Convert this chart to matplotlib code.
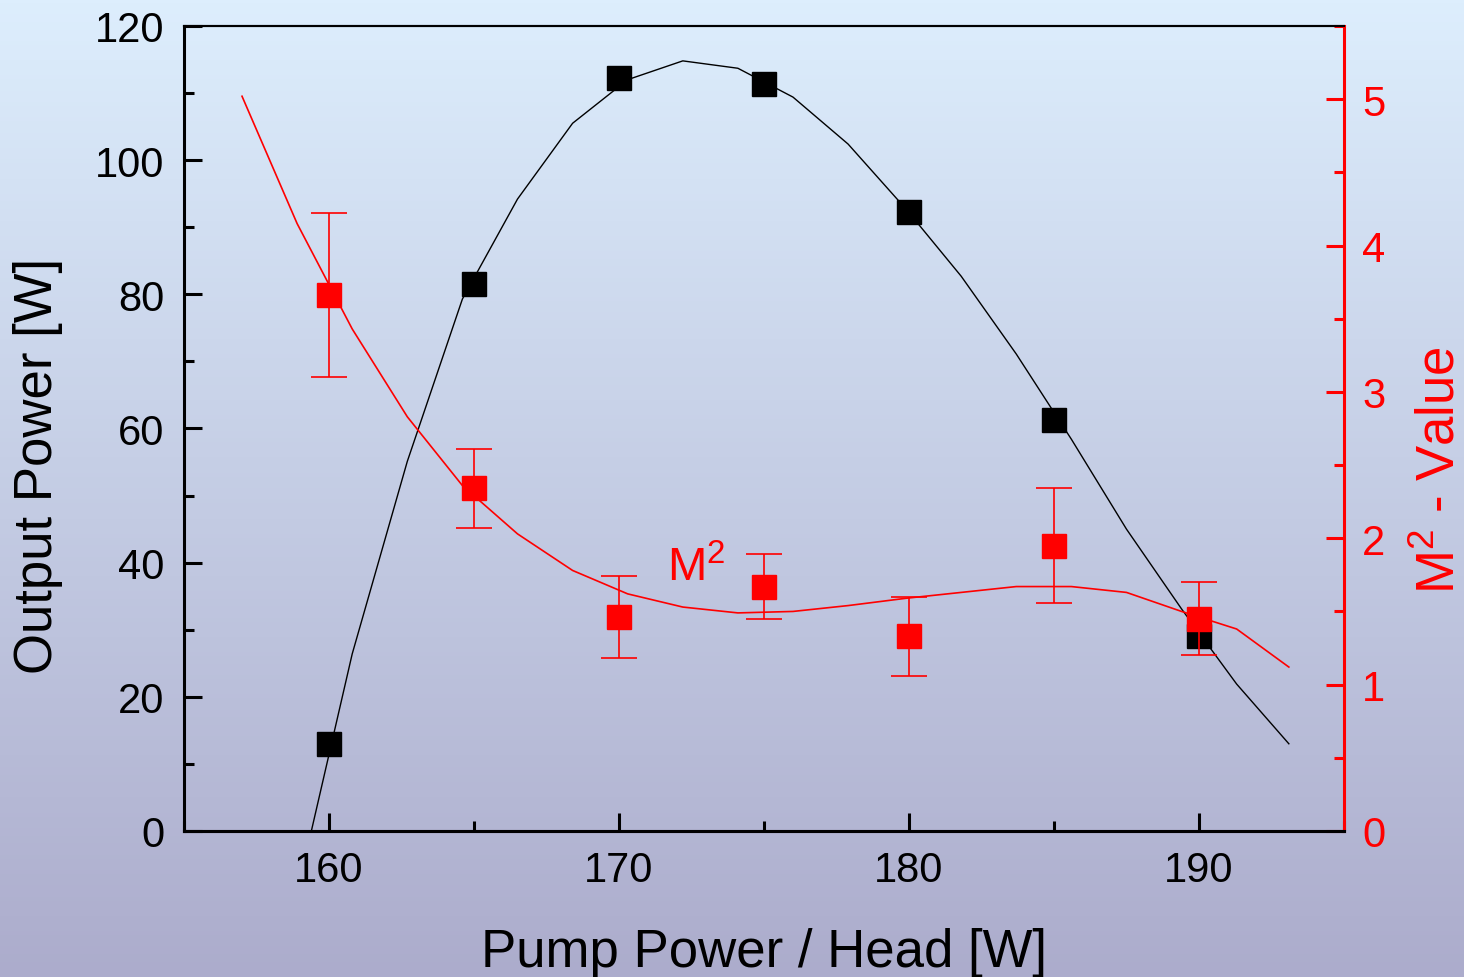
import numpy as np
import matplotlib
matplotlib.use("Agg")
import matplotlib.pyplot as plt
from matplotlib.ticker import MultipleLocator

plt.rcParams['font.family'] = ['Liberation Sans', 'DejaVu Sans']

# measured points
pump = [160, 165, 170, 175, 180, 185, 190]
power = [13.0, 81.5, 112.2, 111.3, 92.2, 61.2, 29.1]
m2 = [3.66, 2.34, 1.46, 1.67, 1.33, 1.95, 1.45]
m2_err = [0.56, 0.27, 0.28, 0.22, 0.27, 0.39, 0.25]

# fit curves
fit_x = [157.0, 158.9, 160.8, 162.7, 164.6, 166.5, 168.4, 170.3, 172.2, 174.1,
         176.0, 177.9, 179.9, 181.8, 183.7, 185.6, 187.5, 189.4, 191.3, 193.1]
fit_power = [-45.0, -9.2, 26.4, 55.1, 79.3, 94.2, 105.5, 112.0, 114.8, 113.7,
             109.4, 102.4, 92.7, 82.7, 71.1, 58.4, 45.0, 33.1, 21.9, 13.0]
fit_m2 = [5.02, 4.15, 3.43, 2.83, 2.36, 2.03, 1.78, 1.62, 1.53, 1.49,
          1.50, 1.54, 1.59, 1.63, 1.67, 1.67, 1.63, 1.50, 1.38, 1.12]

fig = plt.figure(figsize=(14.64, 9.78), dpi=100)

# gradient background
bg = fig.add_axes([0, 0, 1, 1], zorder=-10)
top = np.array([221, 238, 253]) / 255
bot = np.array([172, 172, 204]) / 255
t = np.linspace(0, 1, 256)[:, None]
grad = top[None, :] * (1 - t) + bot[None, :] * t
bg.imshow(grad[:, None, :], aspect='auto', extent=[0, 1, 0, 1])
bg.axis('off')

ax = fig.add_axes([0.1257, 0.1493, 0.7923, 0.8231])
ax.patch.set_alpha(0)
ax2 = ax.twinx()

ax.plot(fit_x, fit_power, color='black', lw=1.0, zorder=2)
ax.plot(pump, power, 's', color='black', ms=17, zorder=3)

ax2.plot(fit_x, fit_m2, color='red', lw=1.2, zorder=2)
ax2.errorbar(pump, m2, yerr=m2_err, fmt='s', color='red', ms=17,
             elinewidth=1.2, capsize=13, capthick=1.2, zorder=3)
ax2.text(171.65, 1.71, r'M$^\mathregular{2}$', color='red', fontsize=34)

ax.set_xlim(155, 195)
ax.set_ylim(0, 120)
ax2.set_ylim(0, 5.5)

ax.xaxis.set_major_locator(MultipleLocator(10))
ax.xaxis.set_minor_locator(MultipleLocator(5))
ax.yaxis.set_major_locator(MultipleLocator(20))
ax.yaxis.set_minor_locator(MultipleLocator(10))
ax2.yaxis.set_major_locator(MultipleLocator(1))
ax2.yaxis.set_minor_locator(MultipleLocator(0.5))

for a in (ax, ax2):
    for s in a.spines.values():
        s.set_linewidth(2.2)
    a.spines['top'].set_linewidth(1.5)

ax.tick_params(axis='both', which='major', direction='in', length=13, width=2.2,
               labelsize=30, pad=14)
ax.tick_params(axis='both', which='minor', direction='in', length=7, width=2.2)
ax.tick_params(axis='x', top=False, which='both')

ax2.spines['right'].set_color('red')
ax2.spines['left'].set_visible(False)
ax.spines['right'].set_visible(False)
ax2.tick_params(axis='y', which='major', direction='in', length=13, width=2.2,
                colors='red', labelsize=30, pad=13)
ax2.tick_params(axis='y', which='minor', direction='in', length=7, width=2.2,
                colors='red')

ax.set_xlabel('Pump Power / Head [W]', fontsize=38, labelpad=26)
ax.set_ylabel('Output Power [W]', fontsize=38)
ax2.set_ylabel(r'M$^\mathregular{2}$ - Value', fontsize=38, color='red')
ax.yaxis.set_label_coords(-0.104, 0.455)
ax2.yaxis.set_label_coords(1.061, 0.45)

fig.savefig('out.png', dpi=100)
